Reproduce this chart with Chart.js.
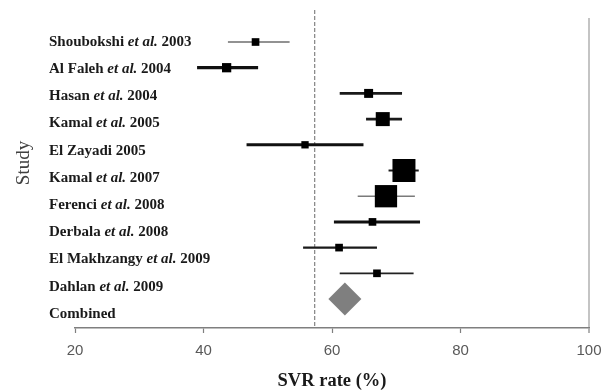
<!DOCTYPE html>
<html>
<head>
<meta charset="utf-8">
<script src="https://cdn.jsdelivr.net/npm/chart.js@4.4.1/dist/chart.umd.min.js"></script>
<style>
html,body{margin:0;padding:0;background:#fff;}
#wrap{width:606px;height:391px;position:relative;}
</style>
</head>
<body>
<div id="wrap"><canvas id="c" width="606" height="391"></canvas></div>
<script>
// ---- data ----
const studyLabels = ["Shoubokshi et al. 2003","Al Faleh et al. 2004","Hasan et al. 2004","Kamal et al. 2005","El Zayadi 2005","Kamal et al. 2007","Ferenci et al. 2008","Derbala et al. 2008","El Makhzangy et al. 2009","Dahlan et al. 2009","Combined"];
const svrRate = [48.1, 43.6, 65.7, 67.9, 55.8, 71.2, 68.4, 66.3, 61.1, 67.0];
const ciLower = [43.8, 39.0, 61.2, 65.3, 46.7, 68.8, 64.0, 60.3, 55.5, 61.2];
const ciUpper = [53.4, 48.5, 70.9, 70.9, 64.9, 73.5, 72.9, 73.7, 67.0, 72.7];
const weights = [3.5, 5.1, 4.8, 11.7, 3.2, 31.5, 29.6, 3.5, 3.5, 3.5];
const combinedRate = 62.0;
const referenceLine = 57.3;
const xTicks = [20, 40, 60, 80, 100];

// ---- styles ----
const whiskerWidths = [1.5, 3.2, 2.6, 2.6, 3.0, 2.0, 1.4, 3.0, 2.4, 1.8];
const whiskerColors = ["#6e6e6e","#111","#1a1a1a","#1a1a1a","#111","#1a1a1a","#7a7a7a","#111","#1a1a1a","#222"];
const squareScale = 16.78; // px^2 per weight %

const datasets = [];
// reference dashed line
datasets.push({
  type:'line', yAxisID:'y', order:3, clip:false,
  data:[{x:referenceLine,y:-1.245},{x:referenceLine,y:11.128}],
  borderColor:'#8c8c8c', borderWidth:1.3, borderDash:[4,2], pointRadius:0
});
// whiskers
for (let i=0;i<svrRate.length;i++){
  datasets.push({
    type:'line', yAxisID:'y', order:2,
    data:[{x:ciLower[i],y:i},{x:ciUpper[i],y:i}],
    borderColor:whiskerColors[i], borderWidth:whiskerWidths[i], pointRadius:0
  });
}
// squares
datasets.push({
  type:'scatter', yAxisID:'y', order:1,
  data: svrRate.map((v,i)=>({x:v,y:i})),
  pointStyle:'rect',
  pointRadius: weights.map(w=>Math.sqrt(w*squareScale)/Math.SQRT2),
  backgroundColor:'#000', borderColor:'#000', borderWidth:0
});
// combined diamond
datasets.push({
  type:'scatter', yAxisID:'y', order:0,
  data:[{x:combinedRate,y:10}],
  pointStyle:'rectRot', pointRadius:16.5,
  backgroundColor:'#7f7f7f', borderColor:'#7f7f7f', borderWidth:0
});

const labelPlugin = {
  id:'studyLabels',
  afterDraw(chart){
    const ctx = chart.ctx;
    const yl = chart.scales.yl;
    ctx.save();
    ctx.fillStyle = '#1a1a1a';
    ctx.textBaseline = 'middle';
    ctx.textAlign = 'left';
    const bold = 'bold 15px "Liberation Serif", "DejaVu Serif", serif';
    const boldIt = 'italic bold 15px "Liberation Serif", "DejaVu Serif", serif';
    studyLabels.forEach((lab,i)=>{
      const y = yl.getPixelForValue(i);
      let x = 49;
      const idx = lab.indexOf('et al.');
      const parts = idx>=0 ? [[lab.slice(0,idx),bold],['et al.',boldIt],[lab.slice(idx+6),bold]] : [[lab,bold]];
      parts.forEach(([t,f])=>{
        ctx.font = f;
        ctx.fillText(t,x,y);
        x += ctx.measureText(t).width;
      });
    });
    // y-axis title
    ctx.translate(24,163);
    ctx.rotate(-Math.PI/2);
    ctx.textAlign='center';
    ctx.font = '19px "Liberation Serif", serif';
    ctx.fillStyle = '#404040';
    ctx.fillText('Study',0,0);
    ctx.restore();
  }
};

new Chart(document.getElementById('c'), {
  data:{datasets},
  options:{
    responsive:false, animation:false,
    layout:{padding:{left:75,right:17,top:18,bottom:0}},
    plugins:{legend:{display:false},tooltip:{enabled:false}},
    scales:{
      x:{
        type:'linear', position:'bottom', min:20, max:100,
        afterBuildTicks:(s)=>{s.ticks = xTicks.map(v=>({value:v}));},
        afterFit:(s)=>{s.height = 63; s.paddingLeft = 0; s.paddingRight = 0;},
        ticks:{color:'#595959', font:{family:'"Liberation Sans", Arial, sans-serif', size:15}, padding:9, maxRotation:0},
        grid:{
          drawOnChartArea:true,
          color:(c)=> (c.tick && c.tick.value===100) ? '#c4c4c4' : 'rgba(0,0,0,0)',
          lineWidth:(c)=> (c.tick && c.tick.value===100) ? 2 : 1,
          tickColor:'#7f7f7f', tickLength:5, tickWidth:1.2
        },
        border:{display:true, color:'#7f7f7f', width:1.5},
        title:{display:true, text:'SVR rate (%)', color:'#1a1a1a',
          font:{family:'"Liberation Serif", serif', size:18.5, weight:'bold'}, padding:{top:0,bottom:-1}}
      },
      y:{type:'linear', display:false, reverse:true, min:-0.934, max:11.128},
      yl:{type:'linear', display:false, reverse:true, min:-0.882, max:10.515}
    }
  },
  plugins:[labelPlugin]
});
</script>
</body>
</html>
